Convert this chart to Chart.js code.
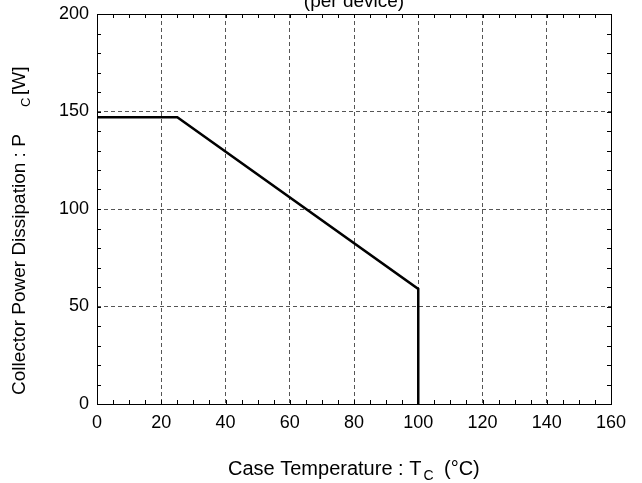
<!DOCTYPE html>
<html><head><meta charset="utf-8">
<script src="https://cdn.jsdelivr.net/npm/chart.js@4"></script>
<style>html,body{margin:0;padding:0;background:#fff}#wrap{width:642px;height:483px;position:relative}</style>
</head><body><div id="wrap"><canvas id="c" width="642" height="483"></canvas></div>
<script>
const tempC = [0, 25, 100, 100];
const powerW = [147, 147, 59, 0];
const xTicks = [0, 20, 40, 60, 80, 100, 120, 140, 160];
const yTicks = [0, 50, 100, 150, 200];
const titleText = "(per device)";
const xLabel = ["Case Temperature : T", "C", "(°C)"];
const yLabel = ["Collector Power Dissipation : P", "C", "[W]"];

const FONT = "'Liberation Sans', Arial, sans-serif";
const TICKF = 18, XLABF = 20, YLABF = 19;

const frame = {
  id: 'frame',
  afterDatasetsDraw(chart) {
    const {ctx, chartArea: a, scales: {x, y}} = chart;
    ctx.save();
    ctx.strokeStyle = '#000';
    ctx.lineWidth = 1;
    ctx.strokeRect(Math.round(a.left) + 0.5, Math.round(a.top) + 0.5, Math.round(a.right - a.left), Math.round(a.bottom - a.top));
    ctx.beginPath();
    for (let v = 0; v <= 160; v += 5) {
      const px = Math.round(x.getPixelForValue(v)) + 0.5;
      const len = 4;
      ctx.moveTo(px, a.bottom); ctx.lineTo(px, a.bottom - len);
      ctx.moveTo(px, a.top); ctx.lineTo(px, a.top + len);
    }
    for (let v = 0; v <= 200; v += 10) {
      const py = Math.round(y.getPixelForValue(v)) + 0.5;
      const len = 4;
      ctx.moveTo(a.left, py); ctx.lineTo(a.left + len, py);
      ctx.moveTo(a.right, py); ctx.lineTo(a.right - len, py);
    }
    ctx.stroke();
    ctx.restore();
  },
  afterDraw(chart) {
    const {ctx, chartArea: a} = chart;
    ctx.save();
    ctx.fillStyle = '#000';
    ctx.textBaseline = 'alphabetic';
    const xmain = XLABF + 'px ' + FONT, xsub = Math.round(XLABF * 0.7) + 'px ' + FONT;
    const ymain = YLABF + 'px ' + FONT, ysub = Math.round(YLABF * 0.7) + 'px ' + FONT;
    // title
    ctx.font = ymain; ctx.textAlign = 'center';
    ctx.fillText(titleText, (a.left + a.right) / 2, 7);
    // x label
    ctx.textAlign = 'left';
    const sx = 228, by = 475;
    ctx.font = xmain; const w0 = ctx.measureText(xLabel[0]).width;
    ctx.fillText(xLabel[0], sx, by);
    ctx.font = xsub; ctx.fillText(xLabel[1], sx + w0 + 2, by + 5);
    ctx.font = xmain; ctx.fillText(xLabel[2], 444, by);
    // y label
    ctx.translate(25, 0);
    ctx.rotate(-Math.PI / 2);
    ctx.font = ymain; ctx.fillText(yLabel[0], -395, 0);
    ctx.font = ysub; ctx.fillText(yLabel[1], -107, 5);
    ctx.font = ymain; ctx.fillText(yLabel[2], -95, 0);
    ctx.restore();
  }
};

new Chart(document.getElementById('c'), {
  type: 'line',
  data: {
    datasets: [{
      data: tempC.map((t, i) => ({x: t, y: powerW[i]})),
      borderColor: '#000', borderWidth: 2.5, pointRadius: 0, fill: false, tension: 0
    }]
  },
  options: {
    responsive: false, animation: false,
    devicePixelRatio: 1,
    layout: {padding: {top: 14, right: 31, left: 0, bottom: 0}},
    plugins: {legend: {display: false}, tooltip: {enabled: false}},
    scales: {
      x: {
        type: 'linear', min: 0, max: 160,
        afterBuildTicks: s => { s.ticks = xTicks.map(v => ({value: v})); },
        afterFit: s => { s.height = 79; s.paddingLeft = 0; s.paddingRight = 0; },
        border: {display: false, dash: [4, 3]},
        grid: {color: '#555', lineWidth: 1, tickLength: 0, drawTicks: false},
        ticks: {color: '#000', font: {family: FONT, size: TICKF}, padding: 8, maxRotation: 0}
      },
      y: {
        type: 'linear', min: 0, max: 200,
        afterBuildTicks: s => { s.ticks = yTicks.map(v => ({value: v})); },
        afterFit: s => { s.width = 97; s.paddingTop = 0; s.paddingBottom = 0; },
        border: {display: false, dash: [4, 3]},
        grid: {color: '#555', lineWidth: 1, tickLength: 0, drawTicks: false},
        ticks: {color: '#000', font: {family: FONT, size: TICKF}, padding: 8}
      }
    }
  },
  plugins: [frame]
});
</script></body></html>
